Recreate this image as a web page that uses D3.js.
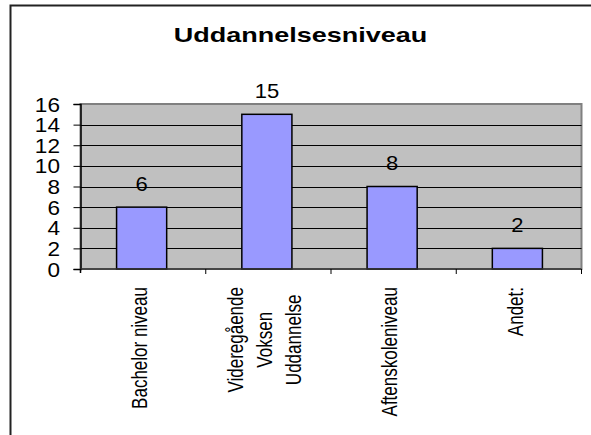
<!DOCTYPE html>
<html>
<head>
  <meta charset="utf-8">
  <title>Uddannelsesniveau</title>
  <script src="https://d3js.org/d3.v7.min.js"></script>
  <style>
    body { margin: 0; background: #fff; }
    text { font-family: "Liberation Sans", Arial, sans-serif; fill: #000; }
  </style>
</head>
<body>
  <svg id="chart" width="591" height="435"></svg>

  <script>
    // Data
    var categories = ["Bachelor niveau", "Videregående\nVoksen\nUddannelse", "Aftenskoleniveau", "Andet:"];
    var values = [6, 15, 8, 2];
    var yTicks = [0, 2, 4, 6, 8, 10, 12, 14, 16];
    var title = "Uddannelsesniveau";

    // Plot area
    var plotLeft = 80.5, plotRight = 581.5, plotTop = 104, plotBottom = 269;

    var svg = d3.select("#chart");

    // Outer frame (only top and left edges are visible)
    svg.append("rect")
      .attr("x", 10.5).attr("y", 5.5)
      .attr("width", 700).attr("height", 600)
      .attr("fill", "none")
      .attr("stroke", "#222")
      .attr("stroke-width", 2);

    // Scales
    var x = d3.scaleBand()
      .domain(categories)
      .range([plotLeft, plotRight])
      .padding(0);

    var y = d3.scaleLinear()
      .domain([0, 16])
      .range([plotBottom, plotTop]);

    // Plot background
    svg.append("rect")
      .attr("x", plotLeft).attr("y", plotTop)
      .attr("width", plotRight - plotLeft).attr("height", plotBottom - plotTop)
      .attr("fill", "#c0c0c0")
      .attr("stroke", "#808080")
      .attr("stroke-width", 2);

    // Gridlines
    svg.append("g")
      .selectAll("line")
      .data(yTicks.filter(function(d) { return d > 0 && d < 16; }))
      .join("line")
      .attr("x1", plotLeft).attr("x2", plotRight)
      .attr("y1", function(d) { return Math.round(y(d)) + 0.5; })
      .attr("y2", function(d) { return Math.round(y(d)) + 0.5; })
      .attr("stroke", "#000")
      .attr("stroke-width", 1);

    // Bars
    var barW = x.bandwidth() * 0.4;
    svg.append("g")
      .selectAll("rect")
      .data(values)
      .join("rect")
      .attr("x", function(d, i) { return x(categories[i]) + x.bandwidth() / 2 - barW / 2 - 1.5; })
      .attr("y", function(d) { return y(d); })
      .attr("width", barW)
      .attr("height", function(d) { return y(0) - y(d); })
      .attr("fill", "#9999ff")
      .attr("stroke", "#000")
      .attr("stroke-width", 1.5);

    // Value labels
    svg.append("g")
      .selectAll("text")
      .data(values)
      .join("text")
      .attr("transform", function(d, i) {
        return "translate(" + (x(categories[i]) + x.bandwidth() / 2 - 1.5) + "," + (y(d) - 16.5) + ") scale(1.1,1)";
      })
      .attr("text-anchor", "middle")
      .style("font-size", "20px")
      .text(function(d) { return d; });

    // Y axis
    var yAxis = d3.axisLeft(y).tickValues(yTicks).tickSize(7).tickFormat(d3.format("d"));
    var yg = svg.append("g")
      .attr("transform", "translate(" + plotLeft + ",0)")
      .call(yAxis);
    yg.select(".domain").attr("stroke", "#000").attr("stroke-width", 1.5);
    yg.selectAll(".tick line").attr("stroke", "#000");
    yg.selectAll(".tick text")
      .attr("x", null).attr("dy", null)
      .attr("text-anchor", "end")
      .attr("transform", "translate(-20.5,7) scale(1.13,1)")
      .attr("font-size", null)
      .attr("font-family", null)
      .style("font-size", "20px");

    // X axis line and category ticks
    svg.append("line")
      .attr("x1", plotLeft).attr("x2", plotRight)
      .attr("y1", plotBottom).attr("y2", plotBottom)
      .attr("stroke", "#333").attr("stroke-width", 1.5);

    svg.append("g")
      .selectAll("line")
      .data(categories)
      .join("line")
      .attr("x1", function(d) { return x(d) + x.bandwidth(); })
      .attr("x2", function(d) { return x(d) + x.bandwidth(); })
      .attr("y1", plotBottom).attr("y2", plotBottom + 5)
      .attr("stroke", "#000");

    svg.append("line")
      .attr("x1", plotLeft).attr("x2", plotLeft)
      .attr("y1", plotBottom).attr("y2", plotBottom + 4)
      .attr("stroke", "#000").attr("stroke-width", 1.5);

    // Category labels (rotated, lines centred in a block hanging from the top)
    var labelTop = 287, lineGap = 23.5, sx = 1.25;
    categories.forEach(function(c) {
      var lines = c.split("\n");
      var cx = x(c) + x.bandwidth() / 2 - 4;
      var g = svg.append("g");
      var texts = g.selectAll("text")
        .data(lines)
        .join("text")
        .style("font-size", "17px")
        .attr("text-anchor", "middle")
        .text(function(d) { return d; });
      var maxLen = d3.max(texts.nodes(), function(n) { return n.getComputedTextLength(); });
      texts.attr("transform", function(d, i) {
        var off = (i - (lines.length - 1) / 2) * lineGap * sx;
        return "translate(" + (cx + off) + "," + (labelTop + maxLen / 2) + ") scale(" + sx + ",1) rotate(-90)";
      })
      .attr("dy", "0.36em");
    });

    // Title
    svg.append("text")
      .attr("transform", "translate(300.5,42) scale(1.35,1)")
      .attr("text-anchor", "middle")
      .style("font-size", "20px")
      .style("font-weight", "bold")
      .text(title);
  </script>
</body>
</html>
